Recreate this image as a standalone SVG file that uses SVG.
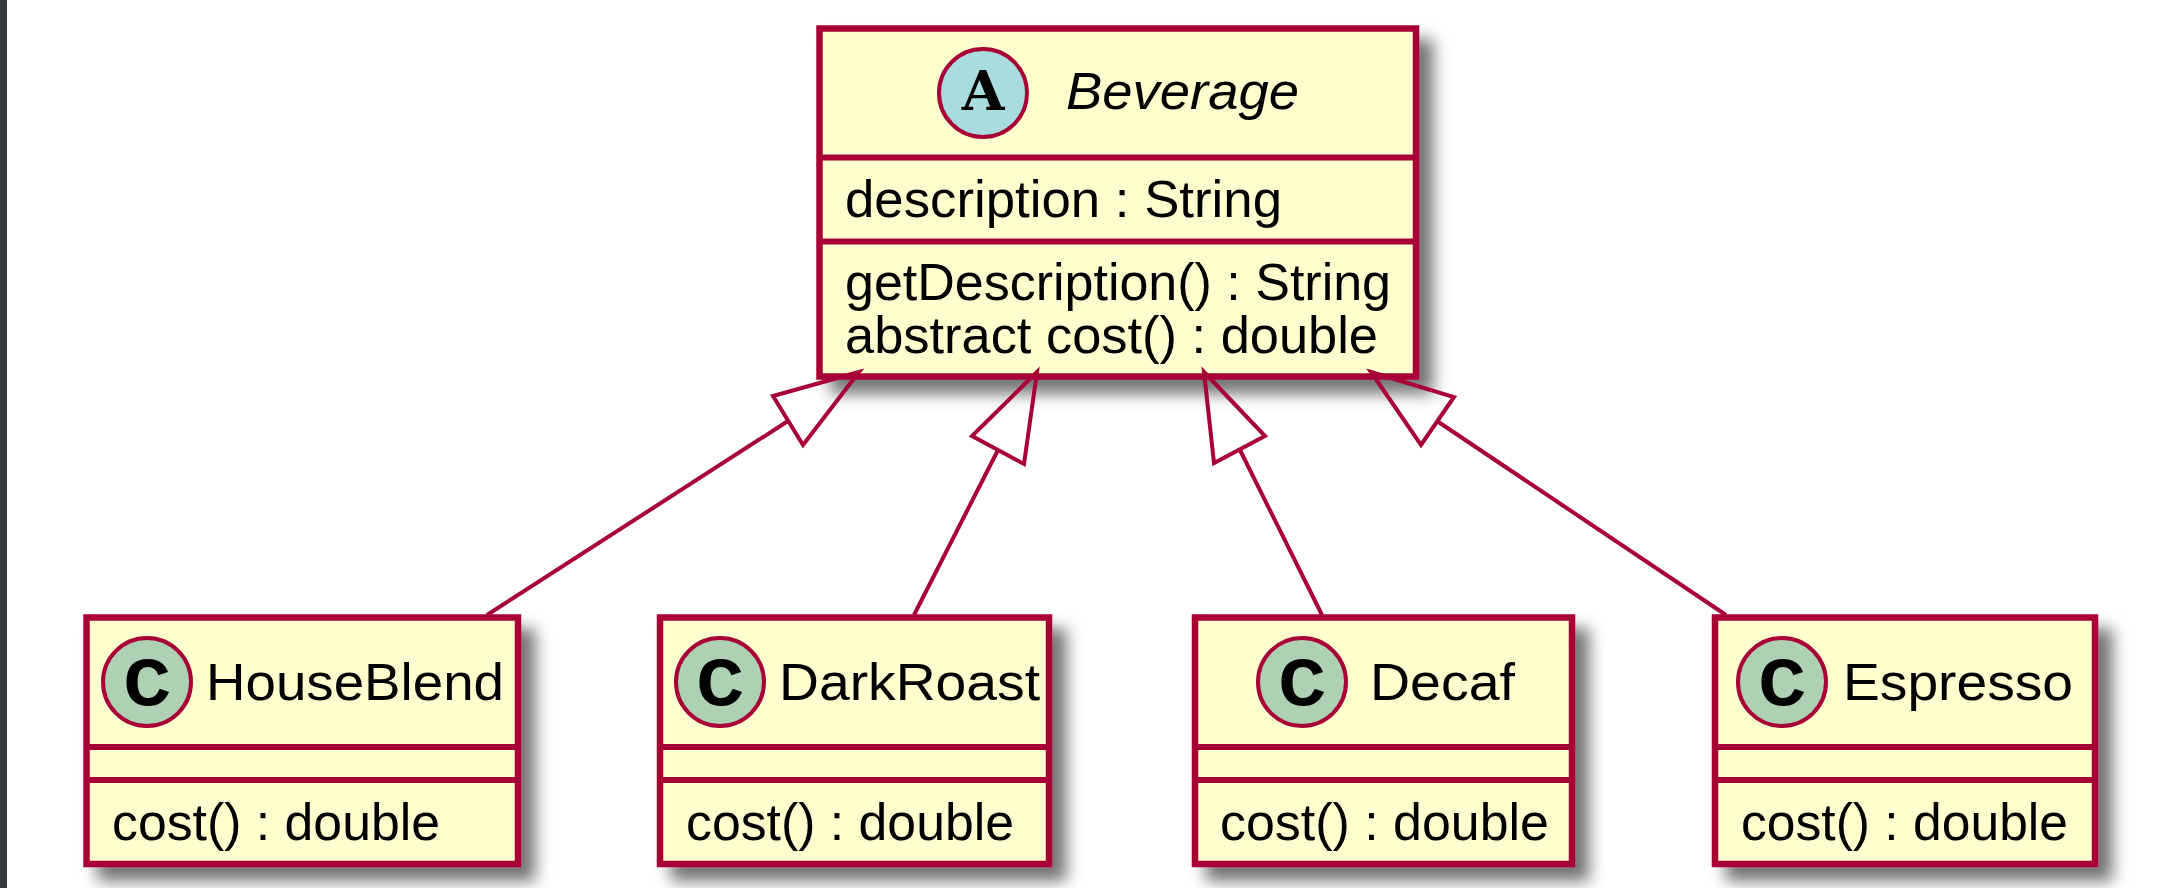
<svg xmlns="http://www.w3.org/2000/svg" width="2182" height="888" viewBox="0 0 2182 888">
<style>
.box{fill:#FEFECE;stroke:#A80036;stroke-width:6.5;filter:url(#sh)}
.div{stroke:#A80036;stroke-width:6;fill:none}
.spotA{fill:#A9DCDF;stroke:#A80036;stroke-width:4}
.spotC{fill:#ADD1B2;stroke:#A80036;stroke-width:4}
.t{font-family:"Liberation Sans",Arial,sans-serif;font-size:52px;fill:#000}
.i{font-style:italic}
.l{font-family:"DejaVu Serif",serif;font-weight:700;font-size:55px;text-anchor:middle;fill:#000}
.c{font-family:"Liberation Mono","Courier New",monospace;font-size:64px;fill:#000;stroke:#000;stroke-width:3}
.ln{stroke:#A80036;stroke-width:4;fill:none}
.hd{stroke:#A80036;stroke-width:4;fill:none;stroke-linejoin:miter}
</style>
<defs>
<filter id="sh" x="-10%" y="-10%" width="125%" height="130%">
<feDropShadow dx="14" dy="14" stdDeviation="8" flood-color="#000" flood-opacity="0.55"/>
</filter>
</defs>
<rect width="2182" height="888" fill="#fff"/>
<rect width="7" height="888" fill="#33383C"/>
<g id="Beverage">
<rect class="box" x="819.5" y="28.5" width="596.5" height="348"/>
<path class="div" d="M819.5 157.5H1416M819.5 241.5H1416"/>
<circle class="spotA" cx="983" cy="93" r="44"/>
<text class="l" x="983" y="110">A</text>
<text class="t i" x="1066" y="109" textLength="233" lengthAdjust="spacingAndGlyphs">Beverage</text>
<text class="t" x="845" y="217" textLength="437" lengthAdjust="spacingAndGlyphs">description : String</text>
<text class="t" x="845" y="300" textLength="546" lengthAdjust="spacingAndGlyphs">getDescription() : String</text>
<text class="t" x="845" y="353" textLength="533" lengthAdjust="spacingAndGlyphs">abstract cost() : double</text>
</g>
<g id="HouseBlend">
<rect class="box" x="86.5" y="617.5" width="431.5" height="246.5"/>
<path class="div" d="M86.5 747H518M86.5 780H518"/>
<circle class="spotC" cx="147" cy="682" r="44"/>
<text class="c" x="124" y="704" textLength="46" lengthAdjust="spacingAndGlyphs">C</text>
<text class="t" x="206" y="700" textLength="298" lengthAdjust="spacingAndGlyphs">HouseBlend</text>
<text class="t" x="112" y="840" textLength="328" lengthAdjust="spacingAndGlyphs">cost() : double</text>
</g>
<g id="DarkRoast">
<rect class="box" x="660" y="617.5" width="389" height="246.5"/>
<path class="div" d="M660 747H1049M660 780H1049"/>
<circle class="spotC" cx="720" cy="682" r="44"/>
<text class="c" x="697" y="704" textLength="46" lengthAdjust="spacingAndGlyphs">C</text>
<text class="t" x="779" y="700" textLength="261" lengthAdjust="spacingAndGlyphs">DarkRoast</text>
<text class="t" x="686" y="840" textLength="328" lengthAdjust="spacingAndGlyphs">cost() : double</text>
</g>
<g id="Decaf">
<rect class="box" x="1195" y="617.5" width="377" height="246.5"/>
<path class="div" d="M1195 747H1572M1195 780H1572"/>
<circle class="spotC" cx="1302" cy="682" r="44"/>
<text class="c" x="1279" y="704" textLength="46" lengthAdjust="spacingAndGlyphs">C</text>
<text class="t" x="1370" y="700" textLength="145" lengthAdjust="spacingAndGlyphs">Decaf</text>
<text class="t" x="1220" y="840" textLength="329" lengthAdjust="spacingAndGlyphs">cost() : double</text>
</g>
<g id="Espresso">
<rect class="box" x="1715" y="617.5" width="380" height="246.5"/>
<path class="div" d="M1715 747H2095M1715 780H2095"/>
<circle class="spotC" cx="1782" cy="682" r="44"/>
<text class="c" x="1759" y="704" textLength="46" lengthAdjust="spacingAndGlyphs">C</text>
<text class="t" x="1843" y="700" textLength="230" lengthAdjust="spacingAndGlyphs">Espresso</text>
<text class="t" x="1741" y="840" textLength="327" lengthAdjust="spacingAndGlyphs">cost() : double</text>
</g>
<g id="connectors">
<path class="ln" d="M788 421L487 615"/>
<polygon class="hd" points="859,372 773,396 803,445"/>
<path class="ln" d="M998 450L914 615"/>
<polygon class="hd" points="1037,372 972,436 1024,464"/>
<path class="ln" d="M1240 450L1322 615"/>
<polygon class="hd" points="1204,372 1265,436 1214,463"/>
<path class="ln" d="M1437 421L1726 615"/>
<polygon class="hd" points="1371,372 1454,397 1421,445"/>
</g>
</svg>
